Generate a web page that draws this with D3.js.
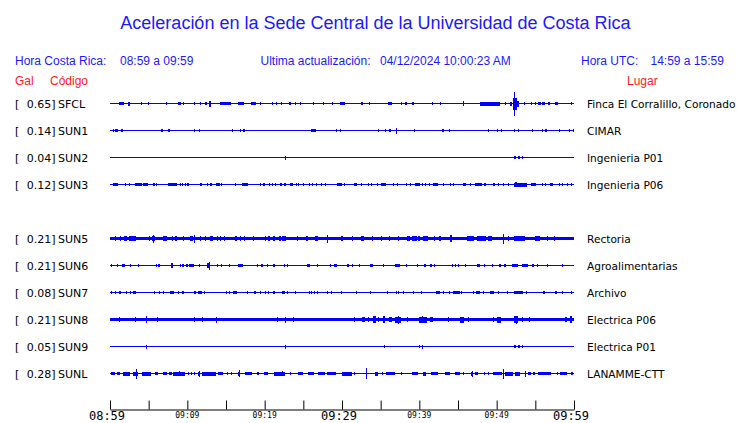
<!DOCTYPE html>
<html><head><meta charset="utf-8">
<script src="https://cdn.jsdelivr.net/npm/d3@7"></script>
<style>body{margin:0;background:#fff}</style>
</head><body>
<svg id="c" width="740" height="423"></svg>
<script>
// ---------- data ----------
const title = "Aceleración en la Sede Central de la Universidad de Costa Rica";
const startTime = new Date(2024, 3, 12, 8, 59);
const endTime = new Date(2024, 3, 12, 9, 59);
const stations = ["SFCL","SUN1","SUN2","SUN3","SUN5","SUN6","SUN7","SUN8","SUN9","SUNL"];
const galValues = [0.65,0.14,0.04,0.12,0.21,0.21,0.08,0.21,0.05,0.28];
const places = ["Finca El Corralillo, Coronado","CIMAR","Ingenieria P01","Ingenieria P06","Rectoria","Agroalimentarias","Archivo","Electrica P06","Electrica P01","LANAMME-CTT"];
const rowSlots = [0,1,2,3,5,6,7,8,9,10];
const noiseLevel = [0.5,0.5,0.5,0.5,1.5,0.5,0.5,1.5,0.5,0.6];
// events: [startMinute, endMinute(optional), amplitude(optional)]
const evSFCL = [[1.1,1.7],[2.3,2.6,2],[4.0],[4.9],[7.3],[8.8,9.2],[9.4],[10.8],[11.6],[12.3,12.5],[12.8,13.1,3],[14.2,15.6],[16.5,17.3],[18.2,18.8],[19.4],[20.9],[21.5],[22.1],[23.1,23.4],[23.9],[24.6],[26.3],[27.5],[28.7],[29.7,30.3],[32.5,32.7],[33.5],[36.0,36.5],[37.6],[38.1,38.4],[39.1,39.4],[41.6],[42.7],[45.6,45.6,2.5],[47.8,50.4,2],[51.1],[51.7,52.0,2],[52.05,52.6,6],[52.28,52.28,12],[52.6,52.9,3],[53.5],[54.5],[55.0],[55.4,55.8],[55.9,56.3],[56.7,57.0],[57.5,57.9],[59.6]];
const evSUN1 = [[0.4],[0.65,1.1],[1.4,1.6],[6.6,6.9],[7.5,7.8],[10.9],[11.55],[15.8],[16.8],[17.2,17.5],[26.0,26.6],[29.2],[29.7],[34.6],[35.6],[36.1,36.3],[37.0,37.0,3],[39.35],[42.9],[43.1],[43.9],[48.9],[50.1],[50.6],[52.3],[52.7,52.85],[54.6],[55.8],[56.2,56.5],[58.1],[59.3],[59.9]];
const evSUN2 = [[22.6,22.6,2],[52.3,52.5],[52.7,52.9],[53.3]];
const evSUN3 = [[0.4,1.1],[2.0],[2.5],[3.2,4.1],[4.3,4.9],[5.5,5.8],[6.0],[7.5,8.6],[9.05],[9.35],[9.7],[10.0,10.3],[11.7,12.0],[12.5],[12.9,13.15],[13.7,14.2],[14.4],[16.1],[17.1,17.9],[19.4],[19.8,20.0],[20.5],[20.9],[21.4],[22.0,22.2],[22.5,22.8],[23.3,23.7],[24.0],[24.35],[25.0],[25.7],[26.1],[26.7],[27.3],[27.8],[29.4,30.0],[30.3],[31.6,32.0],[32.5],[33.3],[33.8],[34.5],[35.0,35.65],[36.55],[37.1],[38.3],[38.8],[39.4,40.1],[40.4],[40.7],[41.2],[41.8,42.4],[43.1],[44.0],[44.3],[45.7,46.1],[46.55],[47.2,48.1],[48.4,48.7],[49.5,49.8],[50.2],[50.8],[51.5],[52.2,53.9,2],[52.4,52.6,2.5],[54.5,55.2],[55.8],[56.25],[56.9,57.3],[58.0],[58.4],[59.05],[59.6]];
const evSUN5 = [[0.65,0.65,2.7],[1.3,1.3,2.7],[1.8,2.15,2.7],[2.4,3.35,2.7],[5.0,5.0,2.7],[5.4,5.8,2.7],[5.6,5.6,4],[6.9,7.45,2.7],[8.0,8.0,2.7],[8.4,8.6,2.7],[9.5,9.5,2.7],[10.3,10.65,2.7],[10.9,10.9,4],[11.65,11.65,2.7],[12.3,12.3,2.7],[12.9,13.35,2.7],[13.9,13.9,2.7],[14.2,14.2,2.7],[14.75,14.75,2.7],[16.15,16.45,2.7],[16.8,16.8,2.7],[17.3,17.3,2.7],[18.5,18.5,2.7],[20.0,20.0,2.7],[20.45,20.7,2.7],[21.1,21.35,2.7],[21.8,22.0,2.7],[22.2,22.7,2.7],[24.15,24.15,2.7],[25.35,25.65,2.7],[26.5,26.85,2.7],[28.0,28.0,4],[29.85,30.1,2.7],[31.25,31.25,2.7],[32.45,32.9,2.7],[33.85,33.85,2.7],[35.05,35.05,2.7],[36.1,36.1,2.7],[37.2,37.2,2.7],[38.35,38.8,2.7],[39.0,39.6,2.7],[39.8,40.1,2.7],[40.5,41.15,2.7],[41.95,41.95,2.7],[42.6,42.8,2.7],[44.0,44.2,3.5],[46.1,47.0,2.7],[47.4,48.5,2.7],[48.9,49.45,2.7],[50.85,50.85,5],[51.5,51.5,2.7],[52.3,53.75,2.7],[55.0,55.6,2.7],[56.45,56.45,2.7],[57.4,57.4,2.7]];
const evSUN6 = [[0.13],[0.86],[1.5,1.95],[2.6],[3.6],[5.95],[6.25,6.45],[7.9,8.2,2.5],[9.05],[9.35,9.55],[9.85,10.1],[10.2,10.8],[11.55],[12.6,12.9,2.5],[12.75,12.75,4],[13.8],[14.35],[15.4],[16.6,17.2],[19.0],[19.5,19.8],[20.25],[21.1,21.4],[22.55],[22.85],[25.45,25.8],[26.8],[28.45],[29.0,29.45],[30.6,30.9],[31.35],[32.25],[33.6,34.05],[35.35],[36.85,37.5],[38.3],[39.75],[40.65,40.95],[41.4,41.6],[41.95],[44.2],[44.55],[45.0],[45.95],[47.4,47.85],[48.4],[49.35],[50.35,50.65],[51.0,51.3],[51.95,52.7],[53.25,54.0],[54.55,54.75],[55.2],[56.45],[58.4]];
const evSUN7 = [[0.13],[0.65],[1.15,1.4],[2.05],[2.6],[3.0,3.35],[5.75],[6.4],[6.9],[7.75,8.3],[8.85],[9.35,9.55],[10.8,11.0],[11.35,11.85],[12.2],[14.95],[15.4],[15.95,16.5],[17.75],[18.65,18.85],[19.4],[20.05],[20.45],[21.1,21.35],[22.2,22.55],[22.95],[23.9],[25.75],[26.0],[26.4],[26.8],[28.0],[28.6],[29.85],[31.75],[33.6],[35.8],[36.95],[37.3],[37.95],[39.2],[40.2],[42.1,42.6],[43.0],[43.9],[44.4,45.25],[45.45],[46.9],[47.35,47.85],[48.2],[49.15,49.7],[50.15],[51.4],[52.3,53.45],[53.75],[55.95,56.25],[57.55,57.75],[58.5],[59.6]];
const evSUN8 = [[1.2,1.2,2.7],[3.25,3.25,2.7],[4.65,4.65,3.5],[6.1,6.1,2.7],[10.8,10.8,2.7],[11.85,11.85,2.7],[13.65,13.65,3],[21.55,21.55,2.7],[22.65,22.65,3],[23.7,23.7,2.7],[31.6,31.6,2.7],[32.55,32.9,2.7],[33.4,33.4,2.7],[34.05,34.4,3.5],[34.7,34.7,2.7],[35.35,35.65,3.5],[36.1,36.55,2.7],[36.85,37.6,3],[37.2,37.2,4],[38.35,38.35,2.7],[39.9,40.95,3],[40.4,40.4,3.5],[41.4,41.8,2.7],[43.75,43.75,2.7],[45.25,45.8,3],[46.25,46.25,2.7],[49.5,49.5,2.7],[50.1,50.65,3],[52.3,52.8,3.5],[52.5,52.5,4],[53.25,53.25,2.7],[54.2,54.2,2.7],[58.85,59.05,2.7],[59.5,59.7,3.5]];
const evSUN9 = [[4.65,4.65,2],[22.6,22.6,2],[35.45],[39.9],[40.4,40.4,2],[52.3,52.5],[52.7,52.9],[53.3]];
const evSUNL = [[0.13,0.65],[0.85,1.3],[1.7,2.6,2],[3.0,3.65,2],[3.35,3.35,5],[4.2,5.3,2],[5.8,6.25],[6.8,7.35],[7.6,8.0],[8.2,9.7,2],[8.9,8.9,2.5],[10.05],[10.45],[10.9],[11.35,11.65,2],[11.45,11.45,3],[11.85,13.6,2],[14.0,14.65],[15.15],[15.65],[16.6,16.8,2],[16.7,16.7,3.5],[17.4,18.3],[18.95,19.2],[19.95,20.45],[21.25,22.65,2],[22.3,22.3,2.5],[23.3],[24.35,25.0],[25.55,26.3],[26.95,27.8],[28.0,29.2],[29.95,31.25,2],[31.5],[33.1,33.1,5.5],[34.25,34.6,2],[35.15],[35.7,36.85],[37.65],[39.1,39.85],[40.5,40.95,2],[41.5,42.45],[43.3,43.95],[44.6,45.25],[45.7],[46.7,46.9,2],[46.8,46.8,3],[47.2,47.65],[48.3],[48.9],[49.55,50.65],[50.8,50.8,5],[51.1,52.15,2],[52.35,53.0,2],[53.65,53.65,3],[54.1,54.55],[54.75,54.95],[55.4,57.1],[57.75],[58.2,59.05],[59.6,59.9]];
const events = [evSFCL,evSUN1,evSUN2,evSUN3,evSUN5,evSUN6,evSUN7,evSUN8,evSUN9,evSUNL];
const majorLabels = [0,30,60];

// ---------- drawing ----------
const blue = "#1a1aff", trace = "#0000ff", red = "#ff1a1a";
const svg = d3.select("#c");
const x = d3.scaleTime().domain([startTime, endTime]).range([110, 574]);
const tm = m => new Date(startTime.getTime() + m * 60000);
const rowY = d3.scaleLinear().domain([0, 10]).range([103.5, 373.5]);

// header
svg.append("text").attr("x", 375.5).attr("y", 29).attr("text-anchor", "middle")
  .attr("font-family", "Liberation Sans, Arial, sans-serif").attr("font-size", 18).attr("fill", blue).text(title);
const hdr = [["Hora Costa Rica:",15],["08:59 a 09:59",120],["Ultima actualización:",260.5],["04/12/2024 10:00:23 AM",380],["Hora UTC:",581],["14:59 a 15:59",650.5]];
svg.selectAll("text.hdr").data(hdr).join("text").attr("class","hdr")
  .attr("x", d => d[1]).attr("y", 65).attr("font-family", "Liberation Sans, Arial, sans-serif")
  .attr("font-size", 12).attr("fill", blue).text(d => d[0]);
const redLab = [["Gal",15],["Código",50],["Lugar",627]];
svg.selectAll("text.red").data(redLab).join("text").attr("class","red")
  .attr("x", d => d[1]).attr("y", 85).attr("font-family", "Liberation Sans, Arial, sans-serif")
  .attr("font-size", 12).attr("fill", red).text(d => d[0]);

// rows
const lab = "DejaVu Sans, sans-serif";
stations.forEach((st, i) => {
  const cy = rowY(rowSlots[i]);
  const y = d3.scaleLinear().domain([-20, 20]).range([cy + 20, cy - 20]);
  const g = svg.append("g");
  g.append("text").attr("x", 15).attr("y", cy + 4).attr("font-family", lab).attr("font-size", 11).text("[");
  g.append("text").attr("x", 55.5).attr("y", cy + 4).attr("text-anchor", "end").attr("font-family", lab).attr("font-size", 11).text(galValues[i].toFixed(2) + "]");
  g.append("text").attr("x", 58).attr("y", cy + 4).attr("font-family", lab).attr("font-size", 11).text(st);
  g.append("text").attr("x", 587).attr("y", cy + 4).attr("font-family", lab).attr("font-size", 10.6).text(places[i]);
  const n = noiseLevel[i];
  g.append("rect").attr("x", x(tm(0))).attr("width", x(tm(60)) - x(tm(0)))
    .attr("y", Math.round(y(n))).attr("height", Math.max(1, Math.round(y(-n) - y(n)))).attr("fill", trace);
  g.selectAll("rect.ev").data(events[i]).join("rect").attr("class", "ev")
    .attr("x", d => Math.round(x(tm(d[0]))))
    .attr("width", d => Math.max(1, Math.round(x(tm(d.length > 1 ? d[1] : d[0])) - x(tm(d[0])))))
    .attr("y", d => Math.round(y(d.length > 2 ? d[2] : 1.5)))
    .attr("height", d => Math.round(y(-(d.length > 2 ? d[2] : 1.5)) - y(d.length > 2 ? d[2] : 1.5)))
    .attr("fill", trace);
});

// axis
const tickVals = d3.range(0, 61, 5).map(tm);
const ax = svg.append("g").attr("transform", "translate(0,409.5)")
  .call(d3.axisBottom(x).tickValues(tickVals).tickSizeInner(-9).tickSizeOuter(0).tickFormat(""));
ax.select(".domain").attr("stroke", "#000");
ax.selectAll(".tick line").attr("stroke", "#000");
const fmt = d3.timeFormat("%H:%M");
svg.selectAll("text.tl").data(d3.range(0, 61, 10)).join("text").attr("class", "tl")
  .attr("x", d => x(tm(d)) - (majorLabels.includes(d) ? 3 : 0)).attr("y", d => majorLabels.includes(d) ? 420 : 418)
  .attr("text-anchor", "middle").attr("font-family", "DejaVu Sans Mono, monospace")
  .attr("font-size", d => majorLabels.includes(d) ? 12 : 8).text(d => fmt(tm(d)));
</script>
</body></html>
